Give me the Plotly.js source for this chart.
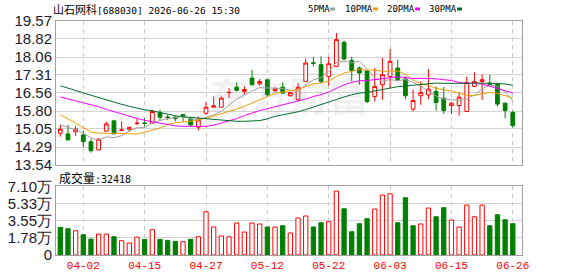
<!DOCTYPE html>
<html><head><meta charset="utf-8">
<script src="https://cdn.plot.ly/plotly-3.0.1.min.js"></script>
<style>html,body{margin:0;padding:0;background:#fff}#chart{width:578px;height:276px}</style>
</head><body><div id="chart"></div>
<script>
const stockName = '山石网科';
const stockCode = '688030';
const stamp = '2026-06-26 15:30';
const watermark = '东方财富';

const opens  = [14.87,14.84,14.93,14.80,14.51,14.17,14.96,15.39,14.99,15.04,15.27,15.30,15.29,15.74,15.55,15.54,15.65,15.46,15.12,15.71,15.96,15.96,16.57,16.80,16.62,17.18,16.94,17.11,16.65,16.80,16.44,16.27,17.04,17.82,17.74,17.25,17.67,18.68,17.92,17.60,17.49,16.41,16.90,17.25,17.60,17.14,15.88,16.44,16.47,16.62,16.34,16.03,16.03,15.78,16.83,17.04,16.97,16.93,16.13,15.74];
const highs  = [15.22,15.22,15.18,14.98,14.62,14.66,15.36,15.39,15.36,15.13,15.46,15.50,15.85,15.85,15.64,15.60,15.68,15.57,15.57,16.16,16.41,16.41,16.76,17.00,16.83,17.53,17.14,17.12,16.80,17.00,16.60,16.97,17.98,18.07,18.09,18.07,19.07,18.75,18.07,17.67,17.49,17.60,18.02,18.40,17.95,17.25,16.69,17.04,17.56,16.83,16.80,16.16,16.58,17.24,17.43,17.34,17.32,16.95,16.15,15.81];
const lows   = [14.73,14.59,14.76,14.28,14.06,14.17,14.96,14.84,14.99,14.94,15.22,15.15,15.29,15.43,15.43,15.36,15.36,15.15,14.99,15.64,15.96,15.96,16.34,16.62,16.48,16.86,16.86,16.41,16.60,16.52,16.41,16.20,17.04,17.67,16.97,16.86,17.67,17.92,17.05,16.90,16.13,16.20,16.27,16.76,17.04,16.30,15.78,16.06,16.30,15.82,15.68,15.67,15.61,15.78,16.83,16.26,16.83,15.99,15.50,15.11];
const closes = [15.04,14.59,15.04,14.52,14.14,14.62,15.26,14.84,15.01,15.12,15.29,15.28,15.78,15.54,15.53,15.48,15.57,15.22,15.43,15.96,16.02,16.34,16.58,16.67,16.70,16.90,17.04,16.48,16.73,16.55,16.57,16.80,17.81,17.80,17.04,17.78,18.79,17.98,17.50,17.39,16.20,16.83,17.32,17.88,17.11,16.44,16.24,16.58,16.72,16.16,15.82,16.13,16.38,17.00,17.03,17.11,16.91,16.09,15.82,15.19];
const prevClose = 15.20;

const volumes = [28600,27200,25100,21000,16500,21700,21700,18900,14800,12400,18600,16200,26200,16200,15100,14100,13800,16200,18900,44800,29000,19700,18900,33100,23800,33100,32100,29000,29000,30300,22800,38300,40400,29000,33400,34500,66200,47900,24100,32400,37600,47600,62100,63400,33400,59300,30300,32100,48600,39600,49000,36200,29000,51700,39600,51700,30300,41700,36500,32418];

const ma5  = [15.22,15.12,15.01,14.88,14.67,14.58,14.72,14.68,14.77,14.97,15.10,15.11,15.30,15.40,15.48,15.52,15.58,15.47,15.45,15.53,15.64,15.79,16.07,16.31,16.46,16.64,16.78,16.76,16.77,16.74,16.67,16.63,16.89,17.11,17.20,17.45,17.84,17.88,17.82,17.89,17.57,17.18,17.05,17.12,17.07,17.12,17.00,16.85,16.62,16.43,16.30,16.28,16.24,16.30,16.47,16.73,16.89,16.83,16.59,16.22];
const ma10 = [15.65,15.48,15.30,15.10,14.92,14.88,14.87,14.86,14.85,14.82,14.84,14.91,14.99,15.09,15.23,15.31,15.34,15.38,15.42,15.51,15.58,15.69,15.77,15.88,16.00,16.14,16.29,16.41,16.54,16.60,16.66,16.70,16.83,16.94,16.97,17.06,17.24,17.39,17.46,17.55,17.51,17.51,17.46,17.47,17.48,17.34,17.09,16.95,16.87,16.75,16.71,16.64,16.55,16.46,16.45,16.52,16.58,16.54,16.45,16.35];
const ma20 = [16.39,16.31,16.24,16.17,16.08,15.98,15.87,15.77,15.66,15.57,15.49,15.41,15.35,15.28,15.22,15.18,15.16,15.15,15.15,15.16,15.21,15.30,15.38,15.48,15.61,15.73,15.82,15.90,15.98,16.05,16.12,16.19,16.30,16.41,16.48,16.60,16.76,16.90,17.00,17.07,17.08,17.11,17.14,17.20,17.23,17.20,17.16,17.17,17.17,17.15,17.11,17.08,17.00,16.96,16.96,16.93,16.84,16.74,16.66,16.55];
const ma30 = [16.86,16.75,16.65,16.56,16.46,16.36,16.26,16.17,16.08,16.00,15.92,15.85,15.81,15.73,15.66,15.60,15.56,15.53,15.51,15.47,15.44,15.41,15.39,15.37,15.37,15.38,15.40,15.47,15.58,15.64,15.69,15.77,15.86,15.97,16.07,16.17,16.29,16.39,16.48,16.55,16.58,16.63,16.69,16.76,16.82,16.85,16.87,16.92,16.96,16.97,16.96,16.95,16.94,16.96,16.97,16.97,16.97,16.96,16.93,16.88];

const maNames = ['5PMA','10PMA','20PMA','30PMA'];
const tickIndex  = [3,11,19,27,35,43,51,59];
const tickLabels = ['04-02','04-15','04-27','05-12','05-22','06-03','06-15','06-26'];
const priceTicks = [13.54,14.29,15.05,15.80,16.56,17.31,18.06,18.82,19.57];
const volTicks   = [0,17750,35500,53250,71000];
const volTickLabels = ['0','1.78万','3.55万','5.33万','7.10万'];

// ---- styling / geometry ----
const RED = '#ff0000', GREEN = '#008000';
const maColors = ['#a0a0a0','#f0a000','#ff00ff','#006a2e'];
const W = 578, H = 276, ML = 56, MR = 56, MT = 21, MB = 21;
const PW = W - ML - MR, PH = H - MT - MB;
const px = v => (v - ML) / PW;
const py = v => (H - MB - v) / PH;

const idx = closes.map((_, i) => i);
const up = closes.map((c, i) => c >= (i === 0 ? prevClose : closes[i - 1]));

const traces = [
  {type:'candlestick', x: idx, open: opens, high: highs, low: lows, close: closes,
   xaxis:'x', yaxis:'y', whiskerwidth:0, hoverinfo:'skip', showlegend:false,
   increasing:{line:{color:RED,width:1}, fillcolor:'#ffffff'},
   decreasing:{line:{color:GREEN,width:1}, fillcolor:GREEN}},
];
[ma5, ma10, ma20, ma30].forEach((m, k) => traces.push({
  type:'scatter', mode:'lines', x: idx, y: m, xaxis:'x', yaxis:'y',
  line:{color: maColors[k], width:1}, hoverinfo:'skip', showlegend:false
}));
traces.push({
  type:'bar', x: idx, y: volumes, xaxis:'x2', yaxis:'y2', width:0.56,
  marker:{color: up.map(u => u ? '#ffffff' : GREEN), line:{color: up.map(u => u ? RED : GREEN), width:1}},
  hoverinfo:'skip', showlegend:false
});

const frame = '#a0a0a0';
const xBase = {range:[-0.56, 60.2], tickvals: tickIndex, showgrid:true, gridcolor:'#c8c8c8',
  griddash:'4px,4px', showline:true, mirror:true, linecolor:frame, linewidth:1,
  zeroline:false, ticks:'', fixedrange:true};
const tickFontY = {family:'Liberation Sans Narrow, Liberation Sans, Arial', size:15, color:'#1a1a2a'};

const ann = [];
ann.push({xref:'paper', yref:'paper', x:px(51), y:py(9.5), xanchor:'left', yanchor:'middle', showarrow:false,
  text:'<span style="font-family:Noto Sans CJK SC;font-size:11px">' + stockName + '</span>[' + stockCode + '] ' + stamp,
  font:{family:'DejaVu Sans Mono', size:9.5, color:'#000'}});
const legX = [306, 343, 385, 427], markX = [330, 373, 415, 457];
const shapes = [];
maNames.forEach((n, k) => {
  ann.push({xref:'paper', yref:'paper', x:px(legX[k]), y:py(9.5), xanchor:'left', yanchor:'middle', showarrow:false,
    text:n, font:{family:'DejaVu Sans Mono', size:9, color:'#000'}});
  shapes.push({type:'rect', xref:'paper', yref:'paper', x0:px(markX[k]), x1:px(markX[k]+5), y0:py(10.5), y1:py(7.5),
    fillcolor:maColors[k], line:{width:0}});
});
ann.push({xref:'paper', yref:'paper', x:px(57), y:py(177), xanchor:'left', yanchor:'middle', showarrow:false,
  text:'<span style="font-family:Noto Sans CJK SC;font-size:12px">成交量</span>:' + volumes[volumes.length - 1],
  font:{family:'DejaVu Sans Mono', size:10, color:'#000'}});
ann.push({xref:'paper', yref:'paper', x:px(289), y:py(94), xanchor:'center', yanchor:'middle', showarrow:false,
  text:'<b>' + watermark + '</b>', font:{family:'Noto Sans CJK SC', size:40, color:'rgba(150,150,160,0.13)'}});

const layout = {
  width:W, height:H, margin:{l:ML, r:MR, t:MT, b:MB, pad:0},
  paper_bgcolor:'#ffffff', plot_bgcolor:'#ffffff', showlegend:false, boxgap:0.3,
  xaxis: Object.assign({}, xBase, {anchor:'y', showticklabels:false, rangeslider:{visible:false}}),
  xaxis2: Object.assign({}, xBase, {anchor:'y2', matches:'x', ticktext: tickLabels,
    tickfont:{family:'Liberation Mono', size:11, color:RED}}),
  yaxis: {domain:[0.3846, 1], range:[priceTicks[0], priceTicks[priceTicks.length-1]], tickvals: priceTicks,
    ticktext: priceTicks.map(v => v.toFixed(2)), showgrid:true, gridcolor:'#d4d4d4', showline:true, mirror:true,
    linecolor:frame, zeroline:false, ticks:'', tickfont: tickFontY, fixedrange:true},
  yaxis2: {domain:[0, 0.293], range:[volTicks[0], volTicks[volTicks.length-1]], tickvals: volTicks,
    ticktext: volTickLabels, showgrid:true, gridcolor:'#d4d4d4', showline:true, mirror:true,
    linecolor:frame, zeroline:false, ticks:'', tickfont: tickFontY, fixedrange:true},
  annotations: ann, shapes: shapes
};
Plotly.newPlot('chart', traces, layout, {staticPlot:true, displayModeBar:false});
</script></body></html>
